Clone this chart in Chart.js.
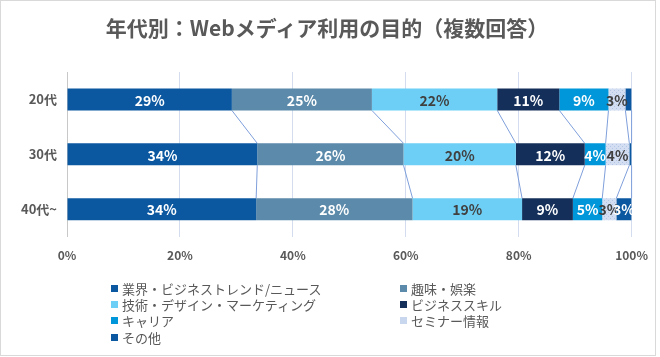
<!DOCTYPE html>
<html><head><meta charset="utf-8">
<script src="https://cdn.jsdelivr.net/npm/chart.js@4/dist/chart.umd.min.js"></script>
<style>
html,body{margin:0;padding:0;background:#fff;}
#wrap{position:absolute;left:0;top:0;width:660px;height:357px;}
#frame{position:absolute;left:0;top:0;width:654px;height:354px;border:1px solid #d9d9d9;box-sizing:content-box;pointer-events:none;}
#title{position:absolute;left:0;top:13px;width:654px;text-align:center;font:bold 21px 'Noto Sans CJK JP',sans-serif;color:#595959;line-height:28px;}
#legend{position:absolute;left:111px;top:280px;display:grid;grid-template-columns:289px 200px;row-gap:0;font:13px 'Noto Sans CJK JP',sans-serif;color:#595959;}
.li{display:flex;align-items:center;height:16.4px;white-space:nowrap;}
.sw{width:7px;height:7px;margin-right:4px;flex:none;}
canvas{position:absolute;left:0;top:0;}
</style></head>
<body>
<div id="wrap">
<canvas id="c" width="660" height="357"></canvas>
<div id="title">年代別：Webメディア利用の目的（複数回答）</div>
<div id="legend"></div>
<div id="frame"></div>
</div>
<script>
const categories = ['20代', '30代', '40代~'];
const seriesNames = ['業界・ビジネストレンド/ニュース', '趣味・娯楽', '技術・デザイン・マーケティング', 'ビジネススキル', 'キャリア', 'セミナー情報', 'その他'];
const industry = [29.2, 33.7, 33.5];
const hobby = [24.8, 25.9, 27.7];
const tech = [22.2, 19.9, 19.4];
const bizSkill = [11.0, 12.2, 9.0];
const career = [8.7, 3.7, 5.2];
const seminar = [3.0, 4.2, 2.5];
const other = [1.1, 0.4, 2.7];
const xTickLabels = ['0%', '20%', '40%', '60%', '80%', '100%'];

const seriesValues = [industry, hobby, tech, bizSkill, career, seminar, other];
const colors = ['#0b58a0', '#5b8aaa', '#6dcff6', '#142f5a', '#0097da', '#c9d7ee', '#0b58a0'];
const labelColors = ['#ffffff', '#ffffff', '#404040', '#ffffff', '#ffffff', '#404040', '#ffffff'];

function makePattern() {
  const p = document.createElement('canvas');
  p.width = 4; p.height = 4;
  const g = p.getContext('2d');
  g.fillStyle = '#d3def2'; g.fillRect(0, 0, 4, 4);
  g.fillStyle = '#b3c6e6';
  g.fillRect(0, 0, 1, 1); g.fillRect(2, 2, 1, 1);
  return document.getElementById('c').getContext('2d').createPattern(p, 'repeat');
}
const seminarPattern = makePattern();

const datasets = seriesNames.map((name, i) => ({
  label: name,
  data: seriesValues[i],
  backgroundColor: i === 5 ? seminarPattern : colors[i],
  borderWidth: 0,
  categoryPercentage: 1.0,
  barPercentage: 0.4
}));

// legend
const leg = document.getElementById('legend');
seriesNames.forEach((n, i) => {
  const d = document.createElement('div');
  d.className = 'li';
  d.innerHTML = '<span class="sw" style="background:' + colors[i] + '"></span><span>' + n + '</span>';
  leg.appendChild(d);
});

const seriesLines = {
  id: 'seriesLines',
  beforeDatasetsDraw(chart) {
    const ctx = chart.ctx;
    ctx.save();
    ctx.strokeStyle = '#7f9fdb';
    ctx.lineWidth = 1;
    chart.data.datasets.forEach((ds, di) => {
      const meta = chart.getDatasetMeta(di);
      for (let i = 0; i < meta.data.length - 1; i++) {
        const a = meta.data[i], b = meta.data[i + 1];
        ctx.beginPath();
        ctx.moveTo(a.x, a.y + a.height / 2);
        ctx.lineTo(b.x, b.y - b.height / 2);
        ctx.stroke();
      }
    });
    ctx.restore();
  }
};

const dataLabels = {
  id: 'dataLabels',
  afterDatasetsDraw(chart) {
    const ctx = chart.ctx;
    ctx.save();
    ctx.font = 'bold 14px "Noto Sans CJK JP", sans-serif';
    ctx.textAlign = 'center';
    ctx.textBaseline = 'middle';
    chart.data.datasets.forEach((ds, di) => {
      const meta = chart.getDatasetMeta(di);
      meta.data.forEach((el, i) => {
        const v = ds.data[i];
        if (v < 2) return;
        ctx.fillStyle = labelColors[di];
        ctx.fillText(Math.round(v) + '%', (el.x + el.base) / 2, el.y + 1);
      });
    });
    ctx.restore();
  }
};

new Chart(document.getElementById('c'), {
  type: 'bar',
  data: { labels: categories, datasets },
  plugins: [seriesLines, dataLabels],
  options: {
    indexAxis: 'y',
    responsive: false,
    animation: false,
    events: [],
    layout: { padding: { top: 72, right: 26, bottom: 82, left: 0 } },
    plugins: { legend: { display: false }, title: { display: false }, tooltip: { enabled: false } },
    scales: {
      x: {
        stacked: true,
        min: 0, max: 100,
        ticks: {
          stepSize: 20,
          padding: 12,
          color: '#595959',
          font: { family: '"Noto Sans CJK JP", sans-serif', size: 12, weight: 'bold' },
          callback: (v) => xTickLabels[v / 20]
        },
        grid: { color: '#d3ddef', drawTicks: false },
        border: { display: false }
      },
      y: {
        stacked: true,
        afterFit(scale) { scale.width = 67; },
        ticks: {
          padding: 10,
          color: '#595959',
          font: { family: '"Noto Sans CJK JP", sans-serif', size: 13, weight: 'bold' }
        },
        grid: { display: false, drawTicks: false },
        border: { display: true, color: '#c8c8c8', width: 1 }
      }
    }
  }
});
</script>
</body></html>
